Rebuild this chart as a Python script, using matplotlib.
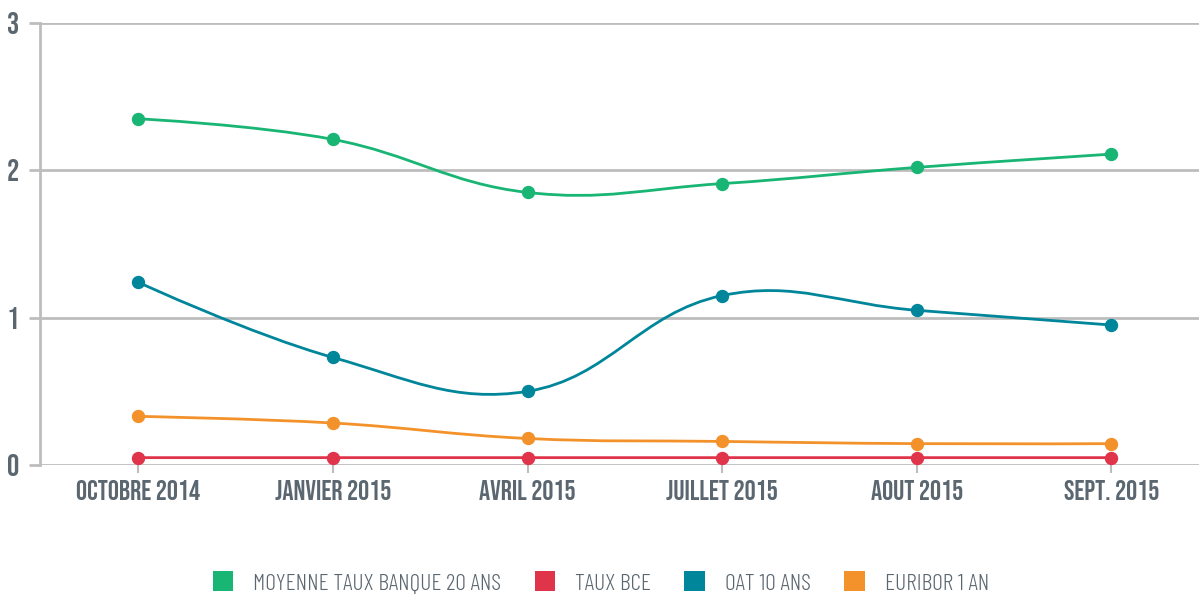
import numpy as np
import matplotlib
matplotlib.use("Agg")
import matplotlib.pyplot as plt
from matplotlib.path import Path
from matplotlib.patches import PathPatch, Patch

categories = ["OCTOBRE 2014", "JANVIER 2015", "AVRIL 2015", "JUILLET 2015", "AOUT 2015", "SEPT. 2015"]
series_names = ["MOYENNE TAUX BANQUE 20 ANS", "TAUX BCE", "OAT 10 ANS", "EURIBOR 1 AN"]
moyenne = [2.35, 2.21, 1.85, 1.91, 2.02, 2.11]
bce = [0.05, 0.05, 0.05, 0.05, 0.05, 0.05]
oat = [1.24, 0.73, 0.50, 1.15, 1.05, 0.95]
euribor = [0.33, 0.285, 0.18, 0.16, 0.145, 0.145]
y_ticks = [0, 1, 2, 3]

colors = ["#19b574", "#e0344b", "#00869a", "#f3922b"]
text_col = "#5b6770"
grid_col = "#bdbdbd"
label_font = "Bebas Neue"
legend_font = "Barlow Condensed"


def spline_path(ax, xs, ys, tension=0.4):
    pts = ax.transData.transform(np.column_stack([xs, ys]))
    n = len(pts)
    prev_c = [pts[i].copy() for i in range(n)]
    next_c = [pts[i].copy() for i in range(n)]
    for i in range(1, n - 1):
        p0, p1, p2 = pts[i - 1], pts[i], pts[i + 1]
        d01 = np.hypot(*(p1 - p0))
        d12 = np.hypot(*(p2 - p1))
        s01 = d01 / (d01 + d12)
        s12 = d12 / (d01 + d12)
        prev_c[i] = p1 - tension * s01 * (p2 - p0)
        next_c[i] = p1 + tension * s12 * (p2 - p0)
    verts = [pts[0]]
    codes = [Path.MOVETO]
    for i in range(1, n):
        verts += [next_c[i - 1], prev_c[i], pts[i]]
        codes += [Path.CURVE4] * 3
    verts = ax.transData.inverted().transform(np.array(verts))
    return Path(verts, codes)


fig = plt.figure(figsize=(11.99, 5.95), dpi=100)
ax = fig.add_axes([40 / 1199, (595 - 465) / 595, 1 - 40 / 1199, (465 - 23) / 595])
x = np.arange(len(categories))
ax.set_xlim(-0.505, 5.45)
ax.set_ylim(0, 3)

for name, vals, col in zip(series_names, [moyenne, bce, oat, euribor], colors):
    p = spline_path(ax, x, vals)
    ax.add_patch(PathPatch(p, facecolor="none", edgecolor=col, lw=2, zorder=3))
    ax.plot(x, vals, "o", color=col, ms=8.6, zorder=4, clip_on=False)

ax.set_yticks(y_ticks)
ax.set_xticks(x)
ax.set_xticklabels(categories, fontfamily=label_font, fontsize=20, color=text_col)
ax.set_yticklabels([str(t) for t in y_ticks], fontfamily=label_font, fontsize=22, color=text_col)
ax.grid(axis="y", color=grid_col, lw=2)
ax.set_axisbelow(True)
for s in ["top", "right", "bottom"]:
    ax.spines[s].set_visible(False)
ax.spines["left"].set_color(grid_col)
ax.spines["left"].set_linewidth(2)
ax.tick_params(axis="y", length=8, width=2, color=grid_col, pad=7)
ax.tick_params(axis="x", length=6, width=1.5, color=grid_col, pad=5)

handles = [Patch(facecolor=c, edgecolor="none") for c in colors]
leg = fig.legend(handles, series_names, loc="center", bbox_to_anchor=(601 / 1199, 1 - 583 / 595),
                 ncol=4, frameon=False, handlelength=0.88, handleheight=0.92, handletextpad=0.85,
                 columnspacing=1.4, prop={"family": legend_font, "weight": 300, "size": 17})
for t in leg.get_texts():
    t.set_color(text_col)

fig.savefig("out.png", dpi=100)
